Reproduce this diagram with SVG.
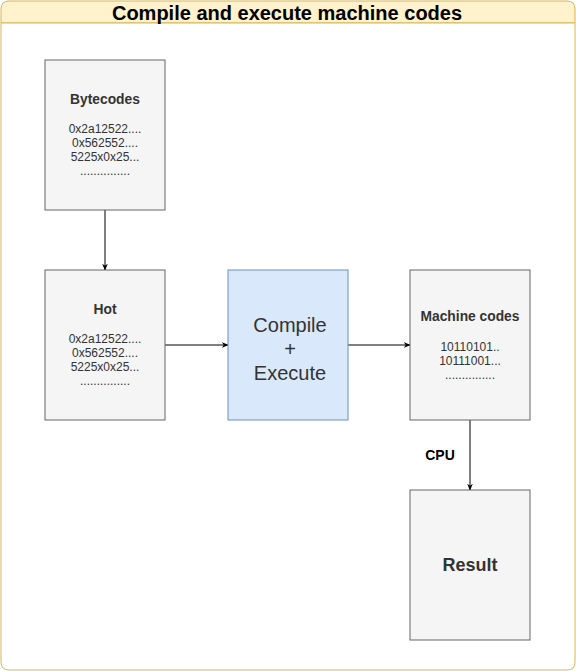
<svg xmlns="http://www.w3.org/2000/svg" width="576" height="671" viewBox="0 0 576 671">
<style>
.box{fill:#f5f5f5;stroke:#666666;stroke-width:1}
.t{font-family:"Liberation Sans",Arial,sans-serif;fill:#333333;text-anchor:middle}
.h{font-weight:bold;font-size:13.8px}
.s{font-size:12px}
.edge{stroke:#000;stroke-width:1;fill:none;marker-end:url(#arr)}
</style>
<defs>
<marker id="arr" viewBox="0 0 10 10" refX="9" refY="5" markerWidth="7" markerHeight="7" markerUnits="userSpaceOnUse" orient="auto">
<path d="M0,1 L10,5 L0,9 L3,5 Z" fill="#000"/>
</marker>
</defs>
<rect width="576" height="671" fill="#ffffff"/>
<g id="container">
<path d="M1,23 V9 Q1,1 9,1 H567 Q575,1 575,9 V23 Z" fill="#fff2cc" stroke="#d6b656"/>
<path d="M1,23 V662 Q1,670 9,670 H567 Q575,670 575,662 V23 Z" fill="#ffffff" stroke="#d6b656"/>
<text x="287" y="20" font-family="'Liberation Sans',Arial,sans-serif" font-weight="bold" font-size="20" text-anchor="middle" fill="#000">Compile and execute machine codes</text>
</g>
<g id="connectors">
<path class="edge" d="M105,210 V270"/>
<path class="edge" d="M165,345 H228"/>
<path class="edge" d="M348,345 H410"/>
<path class="edge" d="M470,420 V490"/>
<text x="440" y="460" font-family="'Liberation Sans',Arial,sans-serif" font-weight="bold" font-size="14" text-anchor="middle" fill="#000">CPU</text>
</g>
<g id="bytecodes">
<rect class="box" x="45" y="60" width="120" height="150"/>
<text class="t h" x="105" y="104">Bytecodes</text>
<text class="t s" x="105" y="133">0x2a12522....</text>
<text class="t s" x="105" y="147">0x562552....</text>
<text class="t s" x="105" y="161">5225x0x25...</text>
<text class="t s" x="105" y="175">...............</text>
</g>
<g id="hot">
<rect class="box" x="45" y="270" width="120" height="150"/>
<text class="t h" x="105" y="314">Hot</text>
<text class="t s" x="105" y="343">0x2a12522....</text>
<text class="t s" x="105" y="357">0x562552....</text>
<text class="t s" x="105" y="371">5225x0x25...</text>
<text class="t s" x="105" y="385">...............</text>
</g>
<g id="compile">
<rect x="228" y="270" width="120" height="150" fill="#dae8fc" stroke="#6c8ebf"/>
<text class="t" x="290" y="332" font-size="20">Compile</text>
<text class="t" x="290" y="356" font-size="20">+</text>
<text class="t" x="290" y="380" font-size="20">Execute</text>
</g>
<g id="machine">
<rect class="box" x="410" y="270" width="120" height="150"/>
<text class="t h" x="470" y="321">Machine codes</text>
<text class="t s" x="470" y="351">10110101..</text>
<text class="t s" x="470" y="365">10111001...</text>
<text class="t s" x="470" y="379">...............</text>
</g>
<g id="result">
<rect class="box" x="410" y="490" width="120" height="150"/>
<text class="t" x="470" y="571" font-size="18" font-weight="bold">Result</text>
</g>
</svg>
